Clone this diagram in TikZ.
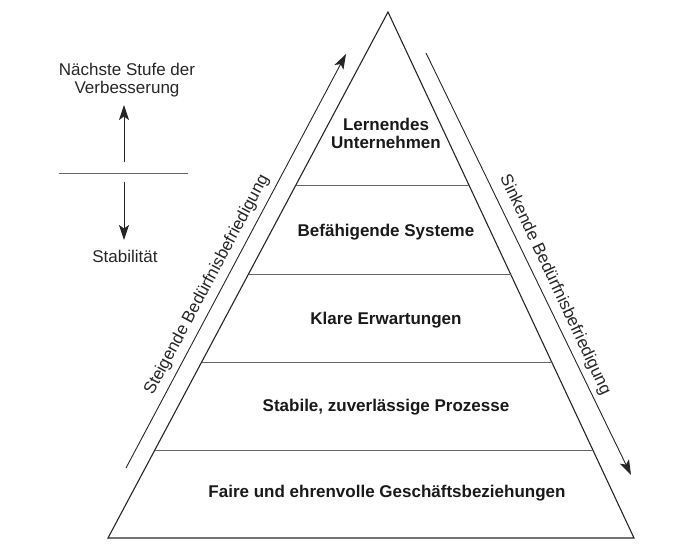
\documentclass[tikz,border=0pt]{standalone}
\usepackage{fontspec}
\setmainfont{Liberation Sans}
\usetikzlibrary{arrows.meta,calc}
\begin{document}
\begin{tikzpicture}[x=1pt,y=-1pt,
  edge/.style={line width=1.1pt, draw=black!85, line join=miter},
  layer/.style={line width=0.9pt, draw=black!60},
  arr/.style={line width=0.9pt, draw=black!85, -{Stealth[length=15pt,width=10pt,inset=3.5pt]}},
  lbl/.style={font=\fontsize{17}{20}\selectfont\bfseries, text=black!90, anchor=base, inner sep=0pt},
  side/.style={font=\fontsize{17}{20}\selectfont, text=black!85, inner sep=0pt}]
\useasboundingbox (0,0) rectangle (680,556);
% pyramid
\coordinate (A) at (388,12);
\coordinate (BL) at (108,538);
\coordinate (BR) at (634,538);
\draw[edge] (BL) -- (A) -- (BR) -- cycle;
\foreach \t/\n in {0.3289/1,0.4981/2,0.6654/3,0.8327/4} {
  \coordinate (L\n) at ($(A)!\t!(BL)$);
  \coordinate (R\n) at ($(A)!\t!(BR)$);
  \draw[layer] (L\n) -- (R\n);
}
% layer texts
\node[lbl] (t1a) at (386,130.7) {Lernendes};
\node[lbl] (t1b) at (386,149) {Unternehmen};
\node[lbl] (t2) at (386,236.7) {Befähigende Systeme};
\node[lbl] (t3) at (386,324) {Klare Erwartungen};
\node[lbl] (t4) at (386,411.7) {Stabile, zuverlässige Prozesse};
\node[lbl] (t5) at (387,497.7) {Faire und ehrenvolle Geschäftsbeziehungen};
% side arrows
\coordinate (ls) at (126,468);
\coordinate (le) at (346,54);
\draw[arr] (ls) -- (le);
\coordinate (rs) at (426,53);
\coordinate (re) at (631,475);
\draw[arr] (rs) -- (re);
\node[side, rotate=62] (stg) at (207,285) {Steigende Bedürfnisbefriedigung};
\node[side, rotate=-64.9] (snk) at (555,285) {Sinkende Bedürfnisbefriedigung};
% legend
\node[side, anchor=base] (nx1) at (127,75.7) {Nächste Stufe der};
\node[side, anchor=base] (nx2) at (127,93.3) {Verbesserung};
\node[side, anchor=base] (stab) at (125,262.7) {Stabilität};
\coordinate (u1) at (124,162);
\coordinate (u2) at (124,105);
\draw[arr] (u1) -- (u2);
\coordinate (h1) at (59,173);
\coordinate (h2) at (188,173);
\draw[layer] (h1) -- (h2);
\coordinate (d1) at (124,182);
\coordinate (d2) at (124,240);
\draw[arr] (d1) -- (d2);
\end{tikzpicture}
\end{document}
